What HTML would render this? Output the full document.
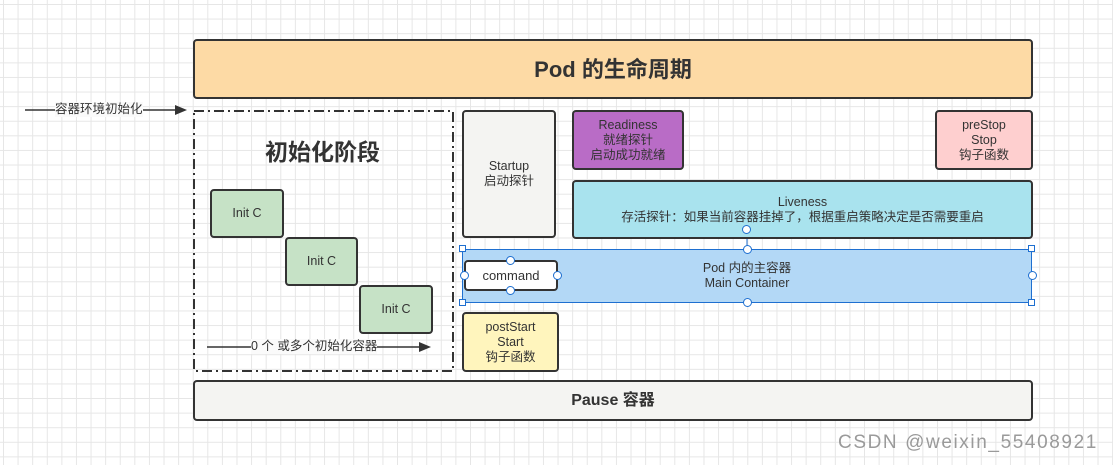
<!DOCTYPE html>
<html><head><meta charset="utf-8"><style>
body{margin:0;width:1113px;height:465px;overflow:hidden;position:relative;font-family:"Liberation Sans","Noto Sans CJK SC",sans-serif;
background-color:#fff;background-image:linear-gradient(#e6e6e6 1px,transparent 1px),linear-gradient(90deg,#e6e6e6 1px,transparent 1px);background-size:14.6px 14.6px;background-position:3px 4px}
.b{position:absolute;box-sizing:border-box;border:2px solid #333;border-radius:4px;display:flex;align-items:center;justify-content:center;text-align:center;font-size:12.5px;color:#333;line-height:15px}
.h{position:absolute;width:7px;height:7px;box-sizing:border-box;border:1px solid #1e6fd0;background:#fff}
.c{position:absolute;width:9px;height:9px;box-sizing:border-box;border:1px solid #1e6fd0;background:#fff;border-radius:50%}
.t{position:absolute;font-size:12.5px;color:#333;white-space:nowrap;background:#fafafa;line-height:15px}
</style></head><body>
<div class="b" style="left:193px;top:39px;width:840px;height:60px;background:#fddaa5;font-size:22px;font-weight:bold;">Pod 的生命周期</div>
<svg style="position:absolute;left:0;top:0" width="1113" height="465">
<rect x="194" y="111" width="259" height="260" fill="none" stroke="#333" stroke-width="2" stroke-dasharray="10 4 2 4"/>
<line x1="25" y1="110" x2="178" y2="110" stroke="#333" stroke-width="1.5"/>
<polygon points="187,110 175,105 175,115" fill="#333"/>
<line x1="207" y1="347" x2="420" y2="347" stroke="#333" stroke-width="1.5"/>
<polygon points="431,347 419,342 419,352" fill="#333"/>
<line x1="747" y1="229" x2="747" y2="249" stroke="#1e6fd0" stroke-width="1"/>
</svg>
<div class="t" style="left:55px;top:102px">容器环境初始化</div>
<div class="t" style="left:251px;top:339px">0 个 或多个初始化容器</div>
<div style="position:absolute;left:265px;top:133px;font-size:23px;font-weight:bold;color:#333">初始化阶段</div>
<div class="b" style="left:210px;top:189px;width:74px;height:49px;background:#c6e2c6">Init C</div>
<div class="b" style="left:285px;top:237px;width:73px;height:49px;background:#c6e2c6">Init C</div>
<div class="b" style="left:359px;top:285px;width:74px;height:49px;background:#c6e2c6">Init C</div>
<div class="b" style="left:462px;top:110px;width:94px;height:128px;background:#f4f4f2">Startup<br>启动探针</div>
<div class="b" style="left:572px;top:110px;width:112px;height:60px;background:#b96cc6">Readiness<br>就绪探针<br>启动成功就绪</div>
<div class="b" style="left:935px;top:110px;width:98px;height:60px;background:#fecfcf">preStop<br>Stop<br>钩子函数</div>
<div class="b" style="left:572px;top:180px;width:461px;height:59px;background:#a9e3ee">Liveness<br>存活探针：如果当前容器挂掉了，根据重启策略决定是否需要重启</div>
<div class="b" style="left:462px;top:249px;width:570px;height:54px;background:#b3d8f6;border:1.5px solid #1e6fd0;border-radius:0">Pod 内的主容器<br>Main Container</div>
<div class="b" style="left:464px;top:260px;width:94px;height:31px;background:#fff;font-size:13px">command</div>
<div class="b" style="left:462px;top:312px;width:97px;height:60px;background:#fff5bd">postStart<br>Start<br>钩子函数</div>
<div class="b" style="left:193px;top:380px;width:840px;height:41px;background:#f4f4f2;font-size:16px;font-weight:bold">Pause 容器</div>
<div class="h" style="left:459px;top:245px"></div><div class="h" style="left:1028px;top:245px"></div>
<div class="h" style="left:459px;top:299px"></div><div class="h" style="left:1028px;top:299px"></div>
<div class="c" style="left:743px;top:245px"></div><div class="c" style="left:743px;top:298px"></div>
<div class="c" style="left:1028px;top:271px"></div><div class="c" style="left:742px;top:225px"></div>
<div class="c" style="left:506px;top:256px"></div><div class="c" style="left:506px;top:286px"></div>
<div class="c" style="left:460px;top:271px"></div><div class="c" style="left:553px;top:271px"></div>
<div style="position:absolute;left:838px;top:432px;font-size:19px;letter-spacing:1.6px;color:#9a9a9a;white-space:nowrap">CSDN @weixin_55408921</div>
</body></html>
